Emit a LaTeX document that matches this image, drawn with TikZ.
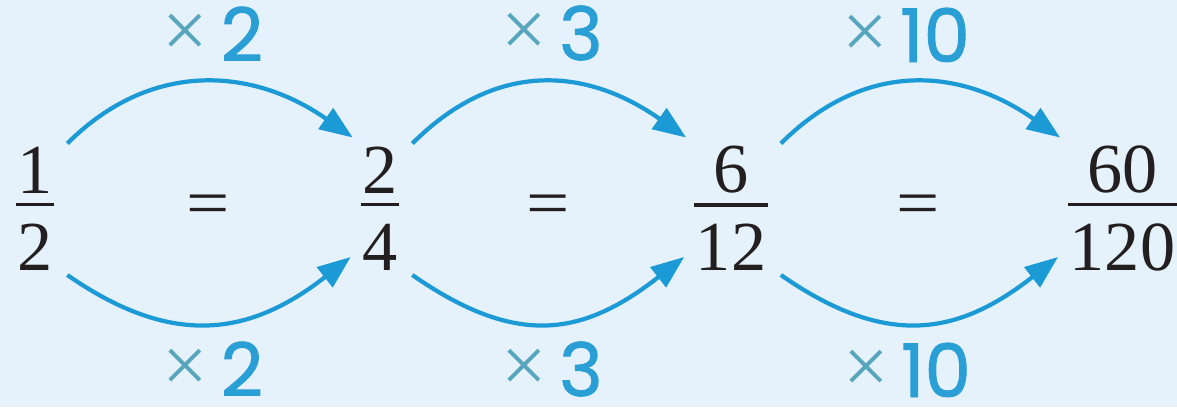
\documentclass[tikz,border=0pt]{standalone}
\usepackage{fontspec}
\setmainfont{Liberation Serif}
\newfontfamily\labfont{Poppins}[FakeBold=1.2]
\newfontfamily\crossfont{Liberation Serif}
\usetikzlibrary{arrows.meta}
\definecolor{bg}{HTML}{E5F2FB}
\definecolor{arr}{HTML}{1B9AD6}
\definecolor{labc}{HTML}{2A9FD6}
\definecolor{crossc}{HTML}{58A5BE}
\definecolor{ink}{HTML}{231F20}
\newcommand\myfr[2]{\vbox{\halign{\hfil\kern0.8pt##\kern0.8pt\hfil\cr #1\cr\noalign{\kern5.4pt\hrule height 2pt\kern10pt}#2\cr}}}
\newcommand\mycross{{\crossfont\fontsize{46}{50}\selectfont\color{crossc}\raisebox{2pt}{×}}\hspace{7pt}}
\begin{document}
\begin{tikzpicture}[x=0.02cm,y=-0.02cm,
  frac/.style={inner sep=0pt, text=ink, font=\fontsize{40}{44}\selectfont},
  eqsign/.style={inner sep=0pt, anchor=base, text=ink, font=\fontsize{38}{40}\selectfont},
  lab/.style={inner sep=0pt, anchor=base, text=labc, font=\labfont\fontsize{42}{46}\selectfont},
  conn/.style={arr, line width=2.4pt, -{Triangle[length=18.8pt,width=14.2pt]}}]
\fill[bg] (0,0) rectangle (1177,407);
\useasboundingbox (0,0) rectangle (1177,407);
% fractions
\node[frac] (f1) at (35,208.5) {\myfr{1}{2}};
\node[frac] (f2) at (380,208.5) {\myfr{2}{4}};
\node[frac] (f3) at (731,208.5) {\myfr{6}{12}};
\node[frac] (f4) at (1122.5,208.5) {\myfr{60}{120}};
% equals signs
\node[eqsign] (e1) at (208,225.5) {\scalebox{1.15}[1]{=}};
\node[eqsign] (e2) at (548,225.5) {\scalebox{1.15}[1]{=}};
\node[eqsign] (e3) at (918,225.5) {\scalebox{1.15}[1]{=}};
% labels
\node[lab] (t1) at (213,61) {\mycross 2};
\node[lab] (b1) at (213,396) {\mycross 2};
\node[lab] (t2) at (552,60) {\mycross 3};
\node[lab] (b2) at (552,396) {\mycross 3};
\node[lab] (t3) at (906,62) {\mycross 10};
\node[lab] (b3) at (907,397) {\mycross 10};
% arrows
\draw[conn] ([shift={(13,-65)}]f1.east) .. controls +(85,-85) and +(-98,-69) .. ([shift={(-8,-71)}]f2.west);
\draw[conn] ([shift={(13,66.5)}]f1.east) .. controls +(105,73) and +(-101,79) .. ([shift={(-10,48.5)}]f2.west);
\draw[conn] ([shift={(13,-65)}]f2.east) .. controls +(85,-85) and +(-98,-69) .. ([shift={(-8,-71)}]f3.west);
\draw[conn] ([shift={(13,66.5)}]f2.east) .. controls +(105,73) and +(-101,79) .. ([shift={(-10,48.5)}]f3.west);
\draw[conn] ([shift={(13,-65)}]f3.east) .. controls +(85,-85) and +(-98,-69) .. ([shift={(-8,-71)}]f4.west);
\draw[conn] ([shift={(13,66.5)}]f3.east) .. controls +(105,73) and +(-101,79) .. ([shift={(-10,48.5)}]f4.west);
\end{tikzpicture}
\end{document}
